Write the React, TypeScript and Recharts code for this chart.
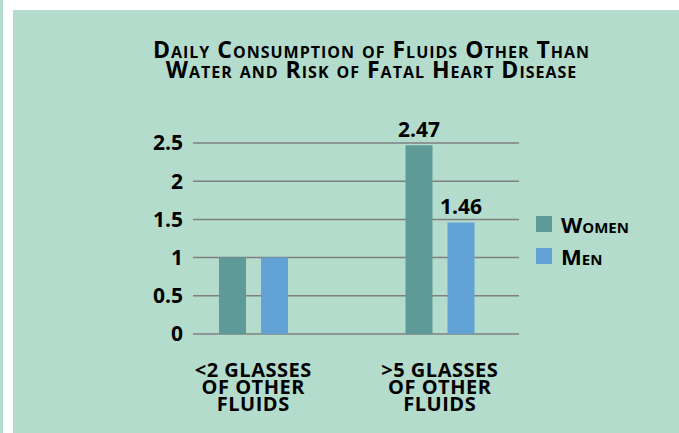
import React from "react";
import { BarChart, Bar, XAxis, YAxis, CartesianGrid, LabelList } from "recharts";

const categories = ["<2 GLASSES OF OTHER FLUIDS", ">5 GLASSES OF OTHER FLUIDS"];
const categoryLines = [
  ["<2 GLASSES", "OF OTHER", "FLUIDS"],
  [">5 GLASSES", "OF OTHER", "FLUIDS"],
];
const women = [1, 2.47];
const men = [1, 1.46];
const womenLabels = ["", "2.47"];
const menLabels = ["", "1.46"];
const yTicks = [0, 0.5, 1, 1.5, 2, 2.5];

const WOMEN_COLOR = "#5e9b98";
const MEN_COLOR = "#63a2d5";
const BG = "#b3dccd";
const FONT = "'Open Sans', sans-serif";

const data = categories.map((c, i) => ({
  name: c,
  women: women[i],
  men: men[i],
  womenLabel: womenLabels[i],
  menLabel: menLabels[i],
}));

const XTick = (props: any) => {
  const { x, y, index } = props;
  const lines = categoryLines[index] || [];
  return (
    <text
      x={x}
      y={y + 35}
      textAnchor="middle"
      fontFamily={FONT}
      fontWeight={700}
      fontSize={20}
      letterSpacing={0.5}
      fill="#000"
    >
      {lines.map((l, i) => (
        <tspan key={i} x={x} dy={i === 0 ? 0 : 17}>
          {l}
        </tspan>
      ))}
    </text>
  );
};

export default function App() {
  return (
    <div style={{ position: "relative", width: 679, height: 433, background: "#fff", overflow: "hidden" }}>
      <style>{`body{margin:0}`}</style>
      <div style={{ position: "absolute", left: 0, top: 0, width: 3, height: 433, background: BG }} />
      <div style={{ position: "absolute", left: 13, top: 10, width: 666, height: 423, background: BG }} />
      <div
        style={{
          position: "absolute",
          left: 120,
          top: 39,
          width: 503,
          textAlign: "center",
          fontFamily: FONT,
          fontWeight: 700,
          fontSize: 23,
          lineHeight: "20px",
          letterSpacing: 1,
          fontVariant: "small-caps",
          color: "#000",
        }}
      >
        Daily Consumption of Fluids Other Than
        <br />
        Water and Risk of Fatal Heart Disease
      </div>
      <div style={{ position: "absolute", left: 0, top: 0 }}>
        <BarChart
          width={679}
          height={433}
          data={data}
          margin={{ top: 143, right: 160, left: 133, bottom: 19 }}
          barGap={15}
          barSize={27}
        >
          <XAxis
            dataKey="name"
            axisLine={false}
            tickLine={false}
            height={80}
            padding={{ left: -33, right: -14 }}
            tick={<XTick />}
            interval={0}
          />
          <YAxis
            domain={[0, 2.5]}
            ticks={yTicks}
            axisLine={false}
            tickLine={false}
            tickSize={0}
            tickMargin={10}
            width={60}
            tick={{ fontFamily: FONT, fontWeight: 700, fontSize: 21, fill: "#000" }}
          />
          <Bar dataKey="women" fill={WOMEN_COLOR} isAnimationActive={false}>
            <LabelList
              dataKey="womenLabel"
              position="top"
              offset={8}
              style={{ fontFamily: FONT, fontWeight: 700, fontSize: 21, fill: "#000" }}
            />
          </Bar>
          <Bar dataKey="men" fill={MEN_COLOR} isAnimationActive={false}>
            <LabelList
              dataKey="menLabel"
              position="top"
              offset={8}
              style={{ fontFamily: FONT, fontWeight: 700, fontSize: 21, fill: "#000" }}
            />
          </Bar>
          <CartesianGrid vertical={false} stroke="#7f7f7f" strokeWidth={1.5} />
        </BarChart>
      </div>
      <div style={{ position: "absolute", left: 536, top: 208, fontFamily: FONT, fontWeight: 700, fontSize: 22, fontVariant: "small-caps" }}>
        {[
          { name: "Women", color: WOMEN_COLOR },
          { name: "Men", color: MEN_COLOR },
        ].map((s) => (
          <div key={s.name} style={{ display: "flex", alignItems: "center", height: 32 }}>
            <span style={{ width: 16, height: 16, background: s.color, marginRight: 9 }} />
            <span style={{ lineHeight: "16px" }}>{s.name}</span>
          </div>
        ))}
      </div>
    </div>
  );
}
